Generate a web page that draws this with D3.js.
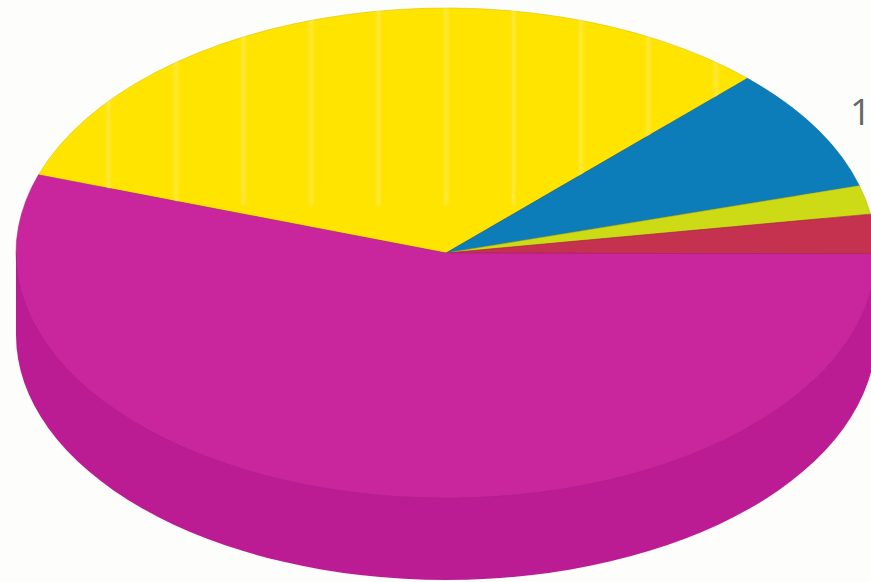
<!DOCTYPE html>
<html>
<head>
<meta charset="utf-8">
<script src="https://cdn.jsdelivr.net/npm/d3@7"></script>
<style>
    html, body { margin: 0; padding: 0; background: #fdfdfb; overflow: hidden; }
</style>
</head>
<body>
<div id="chart"></div>
<script>
// values (percent), clockwise from the top-left edge of yellow
var categories = ["yellow", "blue", "green", "red", "magenta"];
var values = [32.2, 8.2, 1.9, 2.6, 55.1];
var colors = ["#ffe400", "#0f7db9", "#cdda12", "#c5304f", "#c9289d"];
var labels = ["1"];

var width = 871;
var height = 582;

var CX = 446;
var CY = 253;
var RX = 430;
var RY = 245;
var DEPTH = 82;
var START = -71.4 * Math.PI / 180;

var svg = d3.select("#chart")
    .append("svg").attr("width", width).attr("height", height)
    .style("display", "block");

var defs = svg.append("defs");
defs.append("filter").attr("id", "scan")
    .append("feGaussianBlur").attr("stdDeviation", 0.6);
defs.append("filter").attr("id", "streak")
    .attr("x", "-20%").attr("width", "140%")
    .append("feGaussianBlur").attr("stdDeviation", 1.6);

var pie = d3.pie().sort(null).startAngle(START).endAngle(START + 2 * Math.PI);
var arc = d3.arc().innerRadius(0).outerRadius(RX);
var slices = pie(values);

var root = svg.append("g").attr("filter", "url(#scan)");

// Side wall of the disc
var side = root.append("g").attr("fill", "#bb1f94");
side.append("ellipse")
    .attr("cx", CX).attr("cy", CY + DEPTH)
    .attr("rx", RX).attr("ry", RY);
side.append("rect")
    .attr("x", CX - RX).attr("y", CY)
    .attr("width", 2 * RX).attr("height", DEPTH);

// Top face
var face = root.append("g")
    .attr("transform", "translate(" + CX + "," + CY + ") scale(1," + (RY / RX) + ")");

face.selectAll("path")
    .data(slices)
    .enter().append("path")
    .attr("d", arc)
    .attr("fill", function (d, i) { return colors[i]; })
    .attr("stroke", function (d, i) { return d3.color(colors[i]).darker(0.5); })
    .attr("stroke-width", 0.7);

// Pale vertical streaks in the yellow slice
defs.append("clipPath").attr("id", "yellowClip")
    .append("path")
    .attr("transform", "translate(" + CX + "," + CY + ") scale(1," + (RY / RX) + ")")
    .attr("d", arc(slices[0]));

root.append("g")
    .attr("clip-path", "url(#yellowClip)")
    .append("g")
    .attr("filter", "url(#streak)")
    .selectAll("line")
    .data(d3.range(-5, 5))
    .enter().append("line")
    .attr("x1", function (d) { return CX + d * 67.5; })
    .attr("x2", function (d) { return CX + d * 67.5; })
    .attr("y1", 0)
    .attr("y2", 205)
    .attr("stroke", "#fff08a")
    .attr("stroke-opacity", 0.55)
    .attr("stroke-width", 3);

// Label cut off by the page edge
svg.append("text")
    .attr("x", 850)
    .attr("y", 125)
    .attr("font-family", "Open Sans")
    .attr("font-size", 37)
    .attr("fill", "#666")
    .text(labels[0]);
</script>
</body>
</html>
